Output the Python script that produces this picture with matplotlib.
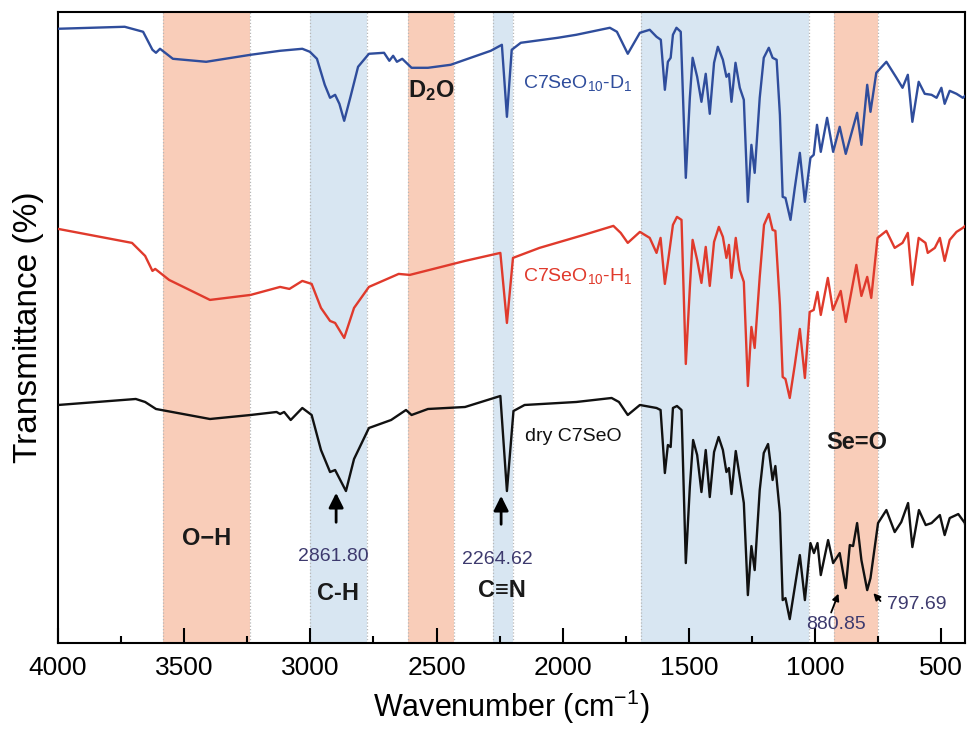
import matplotlib
matplotlib.use("Agg")
import matplotlib.pyplot as plt
from matplotlib.ticker import MultipleLocator

plt.rcParams["font.family"] = ["Liberation Sans", "DejaVu Sans"]
plt.rcParams["mathtext.fontset"] = "custom"
plt.rcParams["mathtext.rm"] = "Liberation Sans"
plt.rcParams["mathtext.it"] = "Liberation Sans:italic"
plt.rcParams["mathtext.bf"] = "Liberation Sans:bold"

# FTIR spectra (transmittance, arbitrary stacked units)
d1_wn = [4000, 3736, 3663, 3626, 3612, 3596, 3545, 3413, 3237, 3120, 3032, 3002, 2974, 2943,
         2922, 2902, 2885, 2866, 2841, 2811, 2768, 2708, 2687, 2672, 2657, 2636, 2599, 2534,
         2444, 2285, 2241, 2221, 2202, 2166, 2019, 1946, 1813, 1785, 1742, 1694, 1655, 1628,
         1611, 1595, 1583, 1572, 1563, 1549, 1532, 1512, 1496, 1485, 1467, 1450, 1433, 1417,
         1400, 1385, 1365, 1351, 1341, 1331, 1315, 1298, 1282, 1266, 1252, 1239, 1219, 1203,
         1183, 1168, 1152, 1139, 1128, 1117, 1097, 1080, 1060, 1040, 1018, 1005, 992, 977,
         952, 928, 902, 878, 833, 816, 793, 780, 757, 717, 677, 653, 632, 614, 589, 565,
         538, 518, 499, 486, 466, 439, 414, 400]
d1_t = [614, 616, 611, 593, 590, 594, 584, 581, 588, 592, 594, 591, 584, 558,
        545, 548, 539, 522, 546, 576, 589, 590, 582, 587, 581, 584, 575, 575,
        578, 592, 598, 526, 593, 600, 605, 608, 615, 611, 589, 610, 613, 606,
        603, 553, 581, 585, 608, 615, 611, 465, 545, 585, 566, 541, 569, 529,
        580, 596, 583, 566, 569, 541, 580, 555, 543, 441, 498, 470, 545, 585,
        595, 585, 583, 528, 446, 445, 423, 455, 490, 441, 485, 488, 518, 491,
        525, 491, 516, 489, 530, 498, 558, 531, 570, 581, 565, 555, 568, 521, 561, 549,
        548, 545, 555, 539, 552, 549, 545, 548]

h1_wn = [4000, 3707, 3655, 3626, 3615, 3560, 3398, 3237, 3120, 3083, 3032, 2995, 2958, 2922,
         2902, 2866, 2827, 2768, 2650, 2606, 2387, 2247, 2221, 2197, 2092, 1916, 1799, 1770,
         1742, 1694, 1655, 1628, 1612, 1595, 1579, 1563, 1547, 1529, 1512, 1496, 1485, 1467,
         1450, 1433, 1417, 1400, 1381, 1365, 1351, 1341, 1331, 1314, 1298, 1282, 1266, 1252,
         1239, 1219, 1202, 1183, 1168, 1157, 1139, 1128, 1117, 1100, 1080, 1060, 1040, 1021,
         1005, 990, 977, 949, 929, 898, 878, 836, 816, 793, 777, 752, 717, 684, 653, 632,
         614, 589, 562, 553, 525, 505, 486, 466, 439, 414, 400]
h1_t = [414, 400, 387, 372, 374, 363, 343, 348, 356, 354, 362, 359, 335, 322,
        320, 305, 335, 356, 369, 368, 382, 390, 320, 385, 395, 408, 417, 410,
        400, 411, 405, 390, 405, 359, 388, 418, 426, 423, 279, 355, 403, 383,
        360, 396, 357, 401, 416, 406, 385, 398, 365, 405, 373, 361, 257, 316,
        295, 366, 418, 429, 413, 412, 338, 266, 264, 245, 278, 314, 265, 331,
        333, 351, 328, 365, 333, 352, 321, 378, 347, 366, 345, 405, 412, 395, 400, 410,
        358, 405, 400, 390, 395, 405, 382, 403, 411, 415, 418]

dry_wn = [4000, 3692, 3655, 3612, 3398, 3237, 3134, 3120, 3104, 3078, 3032, 2995, 2958, 2922,
          2902, 2859, 2827, 2768, 2680, 2621, 2599, 2534, 2387, 2247, 2221, 2195, 2151, 1946,
          1806, 1777, 1742, 1694, 1628, 1612, 1595, 1583, 1572, 1563, 1547, 1529, 1512, 1496,
          1483, 1467, 1450, 1433, 1417, 1400, 1382, 1365, 1351, 1341, 1331, 1314, 1298, 1282,
          1266, 1252, 1239, 1219, 1203, 1186, 1168, 1157, 1139, 1128, 1117, 1100, 1080, 1060,
          1040, 1018, 1004, 990, 977, 948, 928, 902, 878, 862, 849, 833, 816, 793, 780, 750,
          717, 684, 658, 631, 614, 588, 561, 538, 505, 486, 466, 432, 406, 400]
dry_t = [238, 244, 241, 234, 224, 228, 231, 229, 231, 223, 235, 228, 193, 171,
         173, 152, 184, 215, 223, 233, 228, 234, 236, 247, 152, 232, 238, 241,
         245, 241, 228, 238, 235, 233, 170, 198, 196, 235, 237, 233, 80, 156,
         203, 188, 151, 193, 146, 191, 206, 193, 171, 175, 149, 192, 166, 140,
         48, 97, 73, 153, 190, 199, 163, 177, 130, 43, 45, 24, 56, 88,
         43, 100, 90, 100, 68, 103, 80, 90, 55, 98, 97, 120, 83, 53, 65, 120,
         133, 111, 121, 140, 96, 133, 118, 120, 128, 108, 125, 129, 120, 110]

orange_bands = [(3585, 3240), (2615, 2430), (925, 750)]
blue_bands = [(3000, 2775), (2275, 2195), (1690, 1025)]

fig = plt.figure(figsize=(9.68, 7.35), dpi=100)
ax = fig.add_axes([0.060, 0.125, 0.937, 0.859])

for lo, hi in orange_bands:
    ax.axvspan(hi, lo, color="#f9cdb9", lw=0, zorder=0)
for lo, hi in blue_bands:
    ax.axvspan(hi, lo, color="#d8e6f2", lw=0, zorder=0)
for lo, hi in orange_bands + blue_bands:
    for x in (lo, hi):
        ax.axvline(x, color="#b8b8b8", lw=0.9, ls=":", zorder=1)

line_kw = dict(lw=1.7, zorder=3, solid_joinstyle="round")
ax.plot(d1_wn, d1_t, color="#2f4d9c", **line_kw)
ax.plot(h1_wn, h1_t, color="#e03a2c", **line_kw)
ax.plot(dry_wn, dry_t, color="#111111", **line_kw)

ax.set_xlim(4000, 405)
ax.set_ylim(0, 631)
ax.set_yticks([])
ax.xaxis.set_major_locator(MultipleLocator(500))
ax.xaxis.set_minor_locator(MultipleLocator(250))
ax.tick_params(axis="x", which="major", direction="in", length=11, width=1.5,
               labelsize=19, pad=9)
ax.tick_params(axis="x", which="minor", direction="in", length=5, width=1.5)
for s in ax.spines.values():
    s.set_linewidth(1.5)

ax.set_xlabel("Wavenumber (cm$^{-1}$)", fontsize=22, labelpad=6)
ax.set_ylabel("Transmittance (%)", fontsize=24, labelpad=10)

# curve labels
ax.text(2158, 560, "C7SeO$_{10}$-D$_{1}$", color="#2f4d9c", fontsize=14, va="center")
ax.text(2158, 367, "C7SeO$_{10}$-H$_{1}$", color="#e03a2c", fontsize=14, va="center")
ax.text(2150, 207, "dry C7SeO", color="#111111", fontsize=14, va="center")

# band labels
bold = dict(fontsize=17, fontweight="bold", ha="center", va="center", color="#1a1a1a")
ax.text(2522, 552, r"$\mathbf{D_{2}O}$", **bold)
ax.text(3410, 105, "O\u2212H", **bold)
ax.text(2890, 50, "C-H", **bold)
ax.text(2240, 53, "C\u2261N", **bold)
ax.text(834, 201, "Se=O", **bold)

# peak annotations
num = dict(fontsize=14, ha="center", va="center", color="#3d3a6e")
ax.text(2910, 87, "2861.80", **num)
ax.text(2260, 84, "2264.62", **num)
ax.text(916, 19, "880.85", **num)
ax.text(597, 39, "797.69", **num)

big_arrow = dict(arrowstyle="-|>", color="black", lw=2, mutation_scale=22)
ax.annotate("", xy=(2898, 153), xytext=(2898, 118), arrowprops=big_arrow)
ax.annotate("", xy=(2244, 150), xytext=(2244, 116), arrowprops=big_arrow)
small_arrow = dict(arrowstyle="-|>", color="black", lw=1.3, mutation_scale=10)
ax.annotate("", xy=(903, 52), xytext=(940, 28), arrowprops=small_arrow)
ax.annotate("", xy=(776, 52), xytext=(733, 40), arrowprops=small_arrow)

fig.savefig("out.png", dpi=100)
